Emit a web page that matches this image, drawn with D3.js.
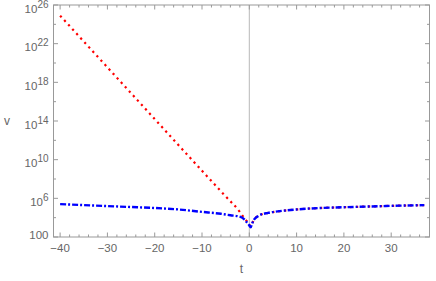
<script src="https://d3js.org/d3.v7.min.js"></script>
<style>
body { margin: 0; background: #fff; }
svg text { font-family: "Liberation Sans", "DejaVu Sans", sans-serif; fill: #666; }
</style>
<svg id="chart" width="436" height="281"></svg>
<script>
// values, v given as log10(v)
const redT    = [-40, -30, -20, -10, -5, -2, -1, -0.3, 0, 0.3, 0.6, 1, 2, 4, 6, 10, 15, 20, 25, 30, 37];
const redLog  = [24.9, 19.55, 14.2, 8.85, 6.2, 4.6, 3.9, 3.5, 3.3, 3.1, 3.4, 3.8, 4.2, 4.5, 4.65, 4.85, 5.0, 5.08, 5.15, 5.22, 5.3];
const blueT   = [-40, -35, -30, -25, -20, -15, -10, -6, -4, -2, -1, -0.5, 0, 0.3, 0.6, 1, 2, 4, 6, 10, 15, 20, 25, 30, 37];
const blueLog = [5.4, 5.3, 5.2, 5.1, 5.0, 4.85, 4.6, 4.4, 4.25, 4.1, 3.8, 3.5, 3.2, 3.0, 3.4, 3.8, 4.2, 4.5, 4.65, 4.85, 5.0, 5.08, 5.15, 5.22, 5.3];
const xTicks  = [-40, -30, -20, -10, 0, 10, 20, 30];
const yTickExp = [2, 6, 10, 14, 18, 22, 26];

const L = 53.5, R = 429.5, T = 5, B = 237;
const svg = d3.select("#chart");
const x = d3.scaleLinear().domain([-41.4, 38.1]).range([L, R]);
const y = d3.scaleLog().domain([1e2, 1e26]).range([B, T]);

// zero line
svg.append("line").attr("x1", x(0)).attr("x2", x(0)).attr("y1", T).attr("y2", B)
  .attr("stroke", "#b8b8b8").attr("stroke-width", 1);

const line = d3.line().x(d => x(d[0])).y(d => y(Math.pow(10, d[1]))).curve(d3.curveMonotoneX);

svg.append("path").datum(redT.map((t, i) => [t, redLog[i]]))
  .attr("d", line).attr("fill", "none").attr("stroke", "#ff0000")
  .attr("stroke-width", 2.2).attr("stroke-dasharray", "2.2,3.8");

svg.append("path").datum(blueT.map((t, i) => [t, blueLog[i]]))
  .attr("d", line).attr("fill", "none").attr("stroke", "#0000ff")
  .attr("stroke-width", 2.4).attr("stroke-dasharray", "6,2,2,2");

// frame
svg.append("rect").attr("x", L).attr("y", T).attr("width", R - L).attr("height", B - T)
  .attr("fill", "none").attr("stroke", "#999").attr("stroke-width", 1);

const ticks = svg.append("g").attr("stroke", "#999").attr("stroke-width", 1);
d3.range(-40, 38, 2).forEach(t => {
  const len = t % 10 === 0 ? 4.5 : 2.5;
  ticks.append("line").attr("x1", x(t)).attr("x2", x(t)).attr("y1", B).attr("y2", B - len);
  ticks.append("line").attr("x1", x(t)).attr("x2", x(t)).attr("y1", T).attr("y2", T + len);
});
d3.range(2, 27, 2).forEach(e => {
  const len = (e - 2) % 4 === 0 ? 4.5 : 2.5;
  ticks.append("line").attr("x1", L).attr("x2", L + len).attr("y1", y(Math.pow(10, e))).attr("y2", y(Math.pow(10, e)));
  ticks.append("line").attr("x1", R).attr("x2", R - len).attr("y1", y(Math.pow(10, e))).attr("y2", y(Math.pow(10, e)));
});

// x tick labels
xTicks.forEach(t => {
  svg.append("text").attr("x", x(t)).attr("y", B + 15).attr("text-anchor", "middle")
    .attr("font-size", 11.5).text(t < 0 ? "\u2212" + Math.abs(t) : t);
});

// y tick labels
yTickExp.forEach(e => {
  const ty = y(Math.pow(10, e));
  if (e === 2) {
    svg.append("text").attr("x", L - 5).attr("y", ty + 2).attr("text-anchor", "end")
      .attr("font-size", 11.5).text("100");
    return;
  }
  const txt = svg.append("text").attr("x", L - 5).attr("y", ty + 7.5)
    .attr("text-anchor", "end").attr("font-size", 11.5);
  txt.append("tspan").text("10");
  txt.append("tspan").attr("dy", -5).attr("font-size", 10).text(e);
});

svg.append("text").attr("x", 7).attr("y", 125).attr("text-anchor", "middle").attr("font-size", 12).text("v");
svg.append("text").attr("x", (L + R) / 2).attr("y", 273).attr("text-anchor", "middle").attr("font-size", 12).text("t");
</script>
